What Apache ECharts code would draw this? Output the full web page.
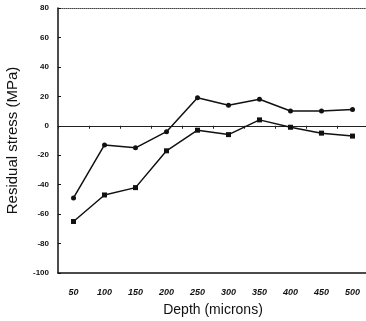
<!DOCTYPE html>
<html>
<head>
  <meta charset="utf-8">
  <title>residual stress</title>
  <script src="https://cdn.jsdelivr.net/npm/echarts@6/dist/echarts.min.js"></script>
  <style>html,body{margin:0;padding:0;background:#fff;}</style>
</head>
<body>
<div id="chartmain" style="width:366px; height:321px;"></div>
<script type="text/javascript">
  // depth categories (microns)
  var depths = ['50', '100', '150', '200', '250', '300', '350', '400', '450', '500'];
  // upper curve, round markers
  var stressCircle = [-49, -13, -15, -4, 19, 14, 18, 10, 10, 11];
  // lower curve, square markers
  var stressSquare = [-65, -47, -42, -17, -3, -6, 4, -1, -5, -7];

  var myChart = echarts.init(document.getElementById('chartmain'));
  var option = {
    animation: false,
    grid: { left: 58, right: -2, top: 8, bottom: 48, containLabel: false, outerBoundsMode: 'none' },
    xAxis: [{
      type: 'category',
      data: depths,
      position: 'bottom',
      axisLine: { onZero: false, lineStyle: { color: '#111', width: 1.5 } },
      axisTick: { show: false },
      axisLabel: { color: '#111', fontSize: 9, fontStyle: 'italic', fontWeight: 'bold', fontFamily: 'Arial', margin: 15 },
      name: 'Depth (microns)',
      nameLocation: 'middle',
      nameGap: 30,
      nameTextStyle: { color: '#111', fontSize: 14, fontFamily: 'Arial' }
    }, {
      // zero line with tick marks
      type: 'category',
      data: depths,
      position: 'bottom',
      axisLine: { onZero: true, lineStyle: { color: '#222', width: 1 } },
      axisTick: { show: true, length: 3, inside: false, lineStyle: { color: '#222' } },
      axisLabel: { show: false }
    }, {
      // dotted top border
      type: 'category',
      data: depths,
      position: 'top',
      axisLine: { onZero: false, lineStyle: { color: '#444', width: 1, type: 'dotted' } },
      axisTick: { show: false },
      axisLabel: { show: false }
    }],
    yAxis: {
      type: 'value',
      min: -100,
      max: 80,
      interval: 20,
      axisLine: { show: true, lineStyle: { color: '#111', width: 1.5 } },
      axisTick: { show: true, inside: true, length: 3, lineStyle: { color: '#111' } },
      splitLine: { show: false },
      axisLabel: { color: '#111', fontSize: 8, fontWeight: 'bold', fontFamily: 'Arial', margin: 9 },
      name: 'Residual stress (MPa)',
      nameLocation: 'middle',
      nameGap: 38,
      nameTextStyle: { color: '#111', fontSize: 15, fontFamily: 'Arial' }
    },
    series: [{
      name: 'circle',
      type: 'line',
      data: stressCircle,
      symbol: 'circle',
      symbolSize: 5,
      itemStyle: { color: '#111' },
      lineStyle: { color: '#111', width: 1.5 }
    }, {
      name: 'square',
      type: 'line',
      data: stressSquare,
      symbol: 'rect',
      symbolSize: 5,
      itemStyle: { color: '#111' },
      lineStyle: { color: '#111', width: 1.5 }
    }]
  };
  myChart.setOption(option);
</script>
</body>
</html>
